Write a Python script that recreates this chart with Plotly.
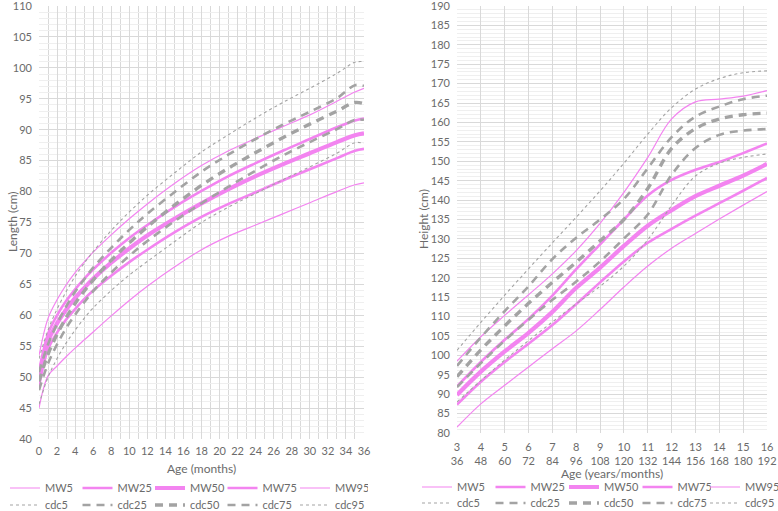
import plotly.graph_objects as go

# ---------------- data: left chart (0-36 months) ----------------
months = [0, 1, 2, 3, 4, 5, 6, 8, 10, 12, 15, 18, 21, 24, 27, 30, 33, 35, 36]
inf_MW5  = [45.0, 50.2, 51.8, 53.3, 54.7, 56.0, 57.3, 59.9, 62.4, 64.7, 67.8, 70.6, 72.8, 74.6, 76.4, 78.2, 80.0, 81.1, 81.4]
inf_MW25 = [48.5, 54.5, 57.2, 59.3, 61.0, 62.6, 64.0, 66.4, 68.6, 70.6, 73.4, 75.9, 78.0, 79.9, 81.8, 83.6, 85.4, 86.6, 86.9]
inf_MW50 = [50.0, 55.8, 58.7, 60.9, 62.8, 64.4, 65.9, 68.5, 70.8, 72.9, 75.6, 78.1, 80.4, 82.5, 84.4, 86.2, 88.0, 89.1, 89.4]
inf_MW75 = [51.0, 57.0, 60.0, 62.3, 64.2, 65.9, 67.4, 70.1, 72.5, 74.6, 77.5, 80.1, 82.5, 84.6, 86.6, 88.5, 90.4, 91.5, 91.8]
inf_MW95 = [53.5, 59.5, 62.5, 64.9, 66.9, 68.6, 70.2, 73.0, 75.6, 78.0, 81.3, 84.2, 86.6, 88.6, 90.5, 92.4, 94.6, 96.1, 96.7]
inf_cdc5  = [45.6, 50.0, 53.0, 55.5, 57.6, 59.5, 61.2, 64.0, 66.5, 68.7, 71.9, 75.0, 77.5, 79.7, 81.9, 84.0, 86.2, 87.9, 87.8]
inf_cdc25 = [47.9, 52.2, 55.3, 57.9, 60.1, 62.1, 63.9, 66.9, 69.6, 72.0, 75.2, 78.1, 80.8, 83.4, 85.8, 88.0, 90.1, 91.6, 91.6]
inf_cdc50 = [49.3, 53.7, 56.9, 59.6, 61.9, 63.9, 65.7, 68.9, 71.7, 74.3, 77.8, 81.0, 83.8, 86.3, 88.7, 90.9, 93.0, 94.4, 94.2]
inf_cdc75 = [50.8, 55.3, 58.6, 61.4, 63.8, 65.8, 67.7, 70.9, 73.8, 76.4, 79.9, 83.2, 86.0, 88.5, 90.8, 92.9, 95.1, 97.2, 97.1]
inf_cdc95 = [53.0, 57.6, 61.0, 63.8, 66.3, 68.4, 70.3, 73.7, 76.7, 79.4, 83.0, 86.4, 89.2, 91.9, 94.4, 96.7, 99.1, 100.9, 101.0]

# ---------------- data: right chart (3-16 years) ----------------
years = [3, 4, 5, 6, 7, 8, 9, 10, 11, 12, 13, 14, 15, 16]
year_month_labels = ["3<br>36", "4<br>48", "5<br>60", "6<br>72", "7<br>84", "8<br>96", "9<br>108",
                     "10<br>120", "11<br>132", "12<br>144", "13<br>156", "14<br>168", "15<br>180", "16<br>192"]
ch_MW5  = [81.5, 87.5, 92.3, 97.0, 101.7, 106.3, 111.8, 117.6, 123.0, 127.6, 131.4, 135.1, 138.7, 142.2]
ch_MW25 = [87.3, 93.2, 98.3, 103.0, 107.8, 113.2, 118.8, 124.2, 129.0, 132.6, 136.0, 139.2, 142.4, 145.7]
ch_MW50 = [89.8, 95.8, 101.0, 105.8, 111.2, 117.4, 122.6, 128.2, 133.4, 137.4, 141.0, 143.7, 146.3, 149.3]
ch_MW75 = [92.0, 98.3, 104.0, 109.4, 115.4, 122.2, 128.6, 135.0, 141.2, 145.2, 147.8, 149.8, 152.1, 154.6]
ch_MW95 = [98.5, 104.8, 110.3, 115.6, 121.0, 127.0, 134.0, 142.0, 151.0, 160.9, 165.3, 166.0, 166.8, 168.2]
ch_cdc5  = [88.0, 93.5, 98.8, 103.8, 108.6, 113.3, 117.8, 123.0, 129.8, 138.6, 146.2, 149.5, 151.0, 151.9]
ch_cdc25 = [91.8, 98.0, 103.8, 109.2, 114.3, 119.0, 124.2, 130.1, 136.3, 146.5, 153.4, 156.8, 157.9, 158.3]
ch_cdc50 = [94.5, 101.4, 107.6, 113.4, 118.8, 124.0, 129.5, 135.0, 143.0, 153.3, 158.4, 160.9, 162.0, 162.4]
ch_cdc75 = [97.3, 104.6, 111.4, 117.8, 124.8, 130.3, 135.0, 140.3, 148.2, 156.2, 161.5, 164.1, 166.0, 166.9]
ch_cdc95 = [101.3, 108.5, 115.5, 122.3, 129.0, 135.6, 142.4, 149.5, 157.0, 163.8, 168.6, 171.3, 172.8, 173.3]

names = ["MW5", "MW25", "MW50", "MW75", "MW95", "cdc5", "cdc25", "cdc50", "cdc75", "cdc95"]
left_series = [inf_MW5, inf_MW25, inf_MW50, inf_MW75, inf_MW95,
               inf_cdc5, inf_cdc25, inf_cdc50, inf_cdc75, inf_cdc95]
right_series = [ch_MW5, ch_MW25, ch_MW50, ch_MW75, ch_MW95,
                ch_cdc5, ch_cdc25, ch_cdc50, ch_cdc75, ch_cdc95]

PINK = "#F384F0"
GREY = "#A3A3A3"
styles = {
    "MW5":  dict(color=PINK, width=1.2, dash="solid"),
    "MW25": dict(color=PINK, width=2.6, dash="solid"),
    "MW50": dict(color=PINK, width=4.2, dash="solid"),
    "MW75": dict(color=PINK, width=2.6, dash="solid"),
    "MW95": dict(color=PINK, width=1.2, dash="solid"),
    "cdc5":  dict(color=GREY, width=1.1, dash="3px,3px"),
    "cdc25": dict(color=GREY, width=2.6, dash="8px,6px"),
    "cdc50": dict(color=GREY, width=3.4, dash="8px,6px"),
    "cdc75": dict(color=GREY, width=2.6, dash="8px,6px"),
    "cdc95": dict(color=GREY, width=1.1, dash="3px,3px"),
}

left_legends = {"MW": "legend", "cdc": "legend2"}

def right_legend(name):
    if name == "MW95":
        return "legend5"
    if name == "cdc95":
        return "legend6"
    return "legend3" if name.startswith("MW") else "legend4"

fig = go.Figure()
for side, xs, series, xa, ya in [
    ("L", months, left_series, "x", "y"),
    ("R", years, right_series, "x2", "y2"),
]:
    for name, vals in zip(names, series):
        st = styles[name]
        if side == "L":
            lg = left_legends["MW" if name.startswith("MW") else "cdc"]
        else:
            lg = right_legend(name)
        fig.add_trace(go.Scatter(
            x=xs, y=vals, name=name, mode="lines",
            line=dict(color=st["color"], width=st["width"], dash=st["dash"], shape="spline", smoothing=1.0),
            xaxis=xa, yaxis=ya, legend=lg, hoverinfo="skip",
        ))

FONT = "Lato, 'Open Sans', sans-serif"
TXT = "#6B6B6B"
MAJ = "#D9D9D9"
MIN = "#EFEFEF"

W, H = 778, 511
ML, MR, MT, MB = 39, 11, 6, 72
pw = W - ML - MR
ph = H - MT - MB

def fx(px):
    return (px - ML) / pw

def fy(py):
    return (H - MB - py) / ph

axis_common = dict(showline=False, zeroline=False, ticks="", automargin=False,
                   ticklabeloverflow="allow",
                   tickfont=dict(family=FONT, size=11, color=TXT))

legend_common = dict(orientation="h", xref="container", yref="container", yanchor="middle",
                     xanchor="left", entrywidthmode="pixels",
                     font=dict(family=FONT, size=11, color=TXT), bgcolor="rgba(0,0,0,0)",
                     borderwidth=0, itemclick=False, itemdoubleclick=False, tracegroupgap=0)

title_font = dict(family=FONT, size=12, color=TXT)
title_specs = [
    ("Age (months)", 201.5, 468, 0),
    ("Age (years/months)", 612, 473, 0),
    ("Length (cm)", 13, 222, -90),
    ("Height (cm)", 424, 219, -90),
]
annotations = [
    dict(text=t, x=fx(px), y=fy(py), xref="paper", yref="paper", textangle=ang,
         showarrow=False, font=title_font, xanchor="center", yanchor="middle")
    for t, px, py, ang in title_specs
]

fig.update_layout(
    width=W, height=H,
    margin=dict(l=ML, r=MR, t=MT, b=MB, pad=0, autoexpand=False),
    paper_bgcolor="white", plot_bgcolor="white",
    font=dict(family=FONT, color=TXT),
    showlegend=True,
    annotations=annotations,
    xaxis=dict(domain=[0, fx(364)], range=[0, 36], dtick=2, tick0=0,
               showgrid=True, gridcolor=MAJ, gridwidth=1,
               minor=dict(dtick=1, showgrid=True, gridcolor=MAJ, gridwidth=1),
               ticklabelstandoff=4, anchor="y", **axis_common),
    yaxis=dict(domain=[0, 1], range=[40, 110], dtick=5, tick0=40,
               showgrid=True, gridcolor=MAJ, gridwidth=1,
               minor=dict(dtick=1, showgrid=True, gridcolor=MIN, gridwidth=1),
               ticklabelstandoff=6, anchor="x", **axis_common),
    xaxis2=dict(domain=[fx(457), fx(767)], range=[3, 16], tickvals=years, ticktext=year_month_labels,
                showgrid=True, gridcolor=MAJ, gridwidth=1,
                ticklabelstandoff=6, anchor="y2", **axis_common),
    yaxis2=dict(domain=[fy(433), 1], range=[80, 190], dtick=5, tick0=80,
                showgrid=True, gridcolor=MAJ, gridwidth=1,
                minor=dict(dtick=1, showgrid=True, gridcolor=MIN, gridwidth=1),
                ticklabelstandoff=6, anchor="x2", **axis_common),
    legend=dict(x=5 / W, y=1 - 488 / H, entrywidth=27.5, **legend_common),
    legend2=dict(x=5 / W, y=1 - 505 / H, entrywidth=27.5, **legend_common),
    legend3=dict(x=417 / W, y=1 - 487 / H, entrywidth=28.5, **legend_common),
    legend4=dict(x=417 / W, y=1 - 503 / H, entrywidth=28.5, **legend_common),
    legend5=dict(x=705 / W, y=1 - 487 / H, **legend_common),
    legend6=dict(x=705 / W, y=1 - 503 / H, **legend_common),
)

fig.write_html("out.html", config={"displayModeBar": False},
               post_script="document.body.style.margin='0px';")
